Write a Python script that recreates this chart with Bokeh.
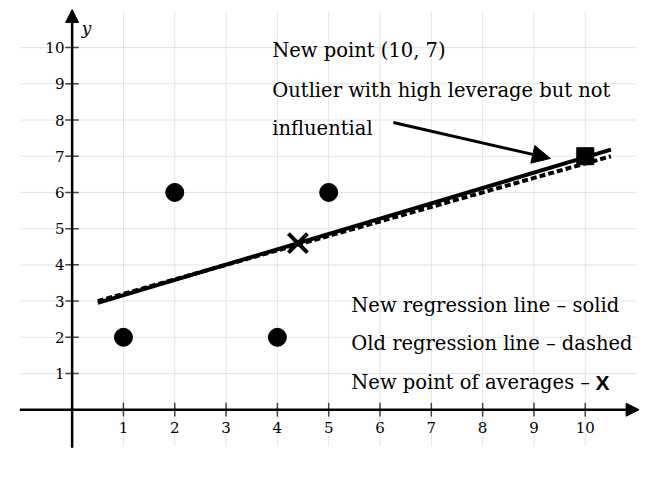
from bokeh.plotting import figure
from bokeh.models import Range1d, Arrow, NormalHead
from bokeh.core.properties import value
from bokeh.embed import file_html
from bokeh.resources import INLINE

# ---- data ----
old_x = [1, 2, 4, 5]
old_y = [2, 6, 2, 6]
new_point_x = [10]
new_point_y = [7]
avg_x = [4.4]
avg_y = [4.6]
line_x = [0.5, 10.5]
new_line_y = [2.95, 7.18]
old_line_y = [3.0, 7.0]
x_ticks = [1, 2, 3, 4, 5, 6, 7, 8, 9, 10]
y_ticks = [1, 2, 3, 4, 5, 6, 7, 8, 9, 10]
x_tick_labels = [str(v) for v in x_ticks]
y_tick_labels = [str(v) for v in y_ticks]

SERIF = value("DejaVu Serif")

p = figure(width=672, height=486, output_backend="svg", toolbar_location=None,
           x_range=Range1d(-1.396, 11.70), y_range=Range1d(-2.12, 11.30),
           min_border=0)
p.xaxis.visible = False
p.yaxis.visible = False
p.xgrid.visible = False
p.ygrid.visible = False
p.outline_line_color = None
p.background_fill_color = "white"

# grid
p.segment(x0=x_ticks, y0=[-1] * len(x_ticks), x1=x_ticks, y1=[11] * len(x_ticks),
          line_color="#e4e4e4", line_width=1)
p.segment(x0=[-1] * len(y_ticks), y0=y_ticks, x1=[11] * len(y_ticks), y1=y_ticks,
          line_color="#e4e4e4", line_width=1)

# axes
p.add_layout(Arrow(end=NormalHead(size=13, fill_color="black", line_color="black"),
                   x_start=-1.02, y_start=0, x_end=11.05, y_end=0,
                   line_color="black", line_width=2.5))
p.add_layout(Arrow(end=NormalHead(size=13, fill_color="black", line_color="black"),
                   x_start=0, y_start=-1.05, x_end=0, y_end=11.05,
                   line_color="black", line_width=2.5))

# ticks
p.segment(x0=x_ticks, y0=[-0.19] * len(x_ticks), x1=x_ticks, y1=[0.19] * len(x_ticks),
          line_color="#444444", line_width=1.5)
p.segment(x0=[-0.13] * len(y_ticks), y0=y_ticks, x1=[0.13] * len(y_ticks), y1=y_ticks,
          line_color="#444444", line_width=1.5)

# tick labels
p.text(x=x_ticks, y=[-0.5] * len(x_ticks), text=x_tick_labels, text_font=SERIF,
       text_font_size="15px", text_align="center", text_baseline="middle", text_color="black")
p.text(x=[-0.15] * len(y_ticks), y=y_ticks, text=y_tick_labels, text_font=SERIF,
       text_font_size="15px", text_align="right", text_baseline="middle", text_color="black")
p.text(x=[0.28], y=[10.55], text=["y"], text_font=SERIF, text_font_style="italic",
       text_font_size="17px", text_align="center", text_baseline="middle", text_color="black")

# regression lines
p.line(x=line_x, y=old_line_y, line_color="black", line_width=4, line_dash="6 3")
p.line(x=line_x, y=new_line_y, line_color="black", line_width=4)

# points
p.scatter(x=old_x, y=old_y, size=18, marker="circle", fill_color="black", line_color="black")
p.scatter(x=new_point_x, y=new_point_y, size=17, marker="square", fill_color="black", line_color="black")
p.scatter(x=avg_x, y=avg_y, size=27, marker="x", line_color="black", line_width=4)

# annotation arrow
p.add_layout(Arrow(end=NormalHead(size=18, fill_color="black", line_color="black"),
                   x_start=6.26, y_start=7.93, x_end=9.32, y_end=6.94,
                   line_color="black", line_width=3))

# annotation text
p.text(x=[3.9, 3.9, 3.9], y=[9.92, 8.82, 7.77],
       text=["New point (10, 7)", "Outlier with high leverage but not", "influential"],
       text_font=SERIF, text_font_size="19.5px", text_align="left", text_baseline="middle",
       text_color="black")
p.text(x=[5.44, 5.44, 5.44], y=[2.88, 1.84, 0.74],
       text=["New regression line \u2013 solid", "Old regression line \u2013 dashed",
             "New point of averages \u2013"],
       text_font=SERIF, text_font_size="19.5px", text_align="left", text_baseline="middle",
       text_color="black")
p.text(x=[10.2], y=[0.76], text=["X"], text_font=value("Liberation Sans"),
       text_font_style="bold", text_font_size="21px", text_align="left",
       text_baseline="middle", text_color="black")

open("out.html", "w").write(file_html(p, INLINE))
